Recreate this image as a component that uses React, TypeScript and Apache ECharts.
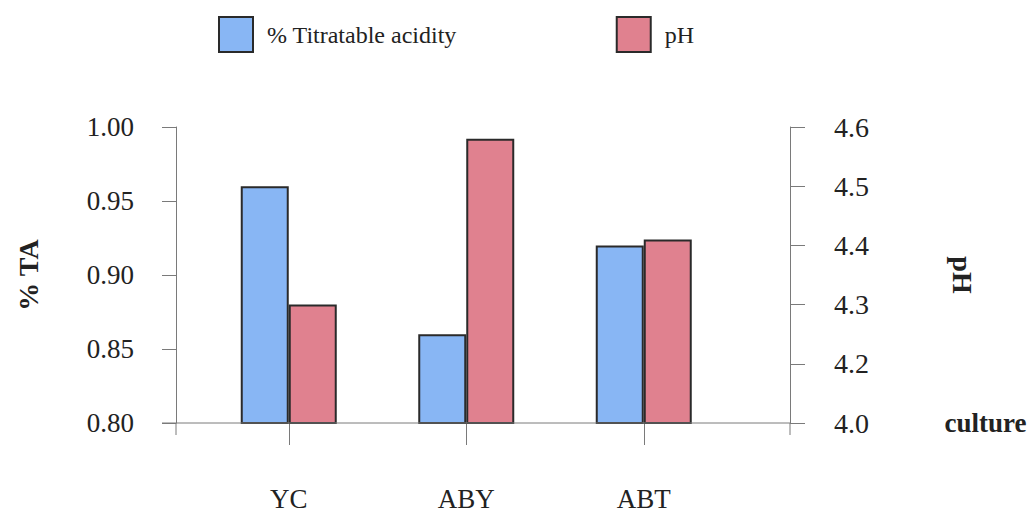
import React, { useEffect, useRef } from "react";
import * as echarts from "echarts";

const categories = ["YC", "ABY", "ABT"];
const taValues = [0.96, 0.86, 0.92];
const phValues = [4.3, 4.58, 4.41];
const taTickLabels = ["0.80", "0.85", "0.90", "0.95", "1.00"];
const phTickLabels = ["4.0", "4.2", "4.3", "4.4", "4.5", "4.6"];
const seriesNames = ["% Titratable acidity", "pH"];

const FONT = "Liberation Serif";
const INK = "#222222";
const AXIS = "#7a7a7a";

export default function App() {
  const ref = useRef<HTMLDivElement>(null);
  useEffect(() => {
    document.body.style.margin = "0";
    const chart = echarts.init(ref.current!, null, { renderer: "svg" });
    chart.setOption({
      animation: false,
      backgroundColor: "#ffffff",
      textStyle: { fontFamily: FONT, color: INK },
      legend: {
        data: seriesNames,
        left: 213,
        top: 11,
        itemWidth: 34,
        itemHeight: 35,
        itemGap: 159,
        icon: "rect",
        textStyle: { fontFamily: FONT, fontSize: 24, color: INK, padding: [0, 0, 0, 9] },
      },
      grid: { left: 200, right: 301.5, top: 127, bottom: 89 },
      xAxis: {
        type: "category",
        data: categories,
        boundaryGap: true,
        axisLine: { show: false },
        axisTick: {
          show: true,
          alignWithLabel: true,
          length: 22,
          lineStyle: { color: AXIS, width: 1 },
        },
        axisLabel: { fontFamily: FONT, fontSize: 27, color: INK, margin: 62 },
        name: "culture",
        nameLocation: "end",
        nameGap: 212,
        nameTextStyle: {
          fontFamily: FONT,
          fontSize: 27,
          fontWeight: "bold",
          color: INK,
          verticalAlign: "middle",
        },
      },
      yAxis: [
        {
          type: "value",
          min: 0.8,
          max: 1.0,
          interval: 0.05,
          offset: 24,
          position: "left",
          splitLine: { show: false },
          axisLine: { show: true, lineStyle: { color: AXIS, width: 1 } },
          axisTick: { show: true, length: 14, lineStyle: { color: AXIS, width: 1 } },
          axisLabel: {
            fontFamily: FONT,
            fontSize: 27,
            color: INK,
            margin: 42,
            formatter: (_v: number, i: number) => taTickLabels[i],
          },
          name: "% TA",
          nameLocation: "middle",
          nameRotate: 90,
          nameGap: 134,
          nameTextStyle: { fontFamily: FONT, fontSize: 28, fontWeight: "bold", color: INK },
        },
        {
          type: "value",
          min: 4.1,
          max: 4.6,
          interval: 0.1,
          offset: 57.5,
          position: "right",
          splitLine: { show: false },
          axisLine: { show: true, lineStyle: { color: AXIS, width: 1 } },
          axisTick: { show: true, length: 15, lineStyle: { color: AXIS, width: 1 } },
          axisLabel: {
            fontFamily: FONT,
            fontSize: 28,
            color: INK,
            margin: 44,
            formatter: (_v: number, i: number) => phTickLabels[i],
          },
          name: "pH",
          nameLocation: "middle",
          nameRotate: -90,
          nameGap: 158,
          nameTextStyle: { fontFamily: FONT, fontSize: 28, fontWeight: "bold", color: INK },
        },
      ],
      series: [
        {
          name: seriesNames[0],
          type: "bar",
          yAxisIndex: 0,
          data: taValues,
          barWidth: 48,
          barGap: "0%",
          itemStyle: { color: "#88b6f4", borderColor: "#2a2a2a", borderWidth: 2 },
        },
        {
          name: seriesNames[1],
          type: "bar",
          yAxisIndex: 1,
          data: phValues,
          barWidth: 48,
          barGap: "0%",
          itemStyle: { color: "#e0818f", borderColor: "#2a2a2a", borderWidth: 2 },
        },
      ],
      graphic: [
        {
          type: "line",
          z: 10,
          shape: { x1: 162, y1: 423, x2: 790, y2: 423 },
          style: { stroke: AXIS, lineWidth: 1 },
        },
        {
          type: "line",
          shape: { x1: 176, y1: 423, x2: 176, y2: 435 },
          style: { stroke: AXIS, lineWidth: 1 },
        },
        {
          type: "line",
          shape: { x1: 790, y1: 423, x2: 790, y2: 435 },
          style: { stroke: AXIS, lineWidth: 1 },
        },
      ],
    });
    return () => chart.dispose();
  }, []);
  return <div ref={ref} style={{ width: 1034, height: 512 }} />;
}
